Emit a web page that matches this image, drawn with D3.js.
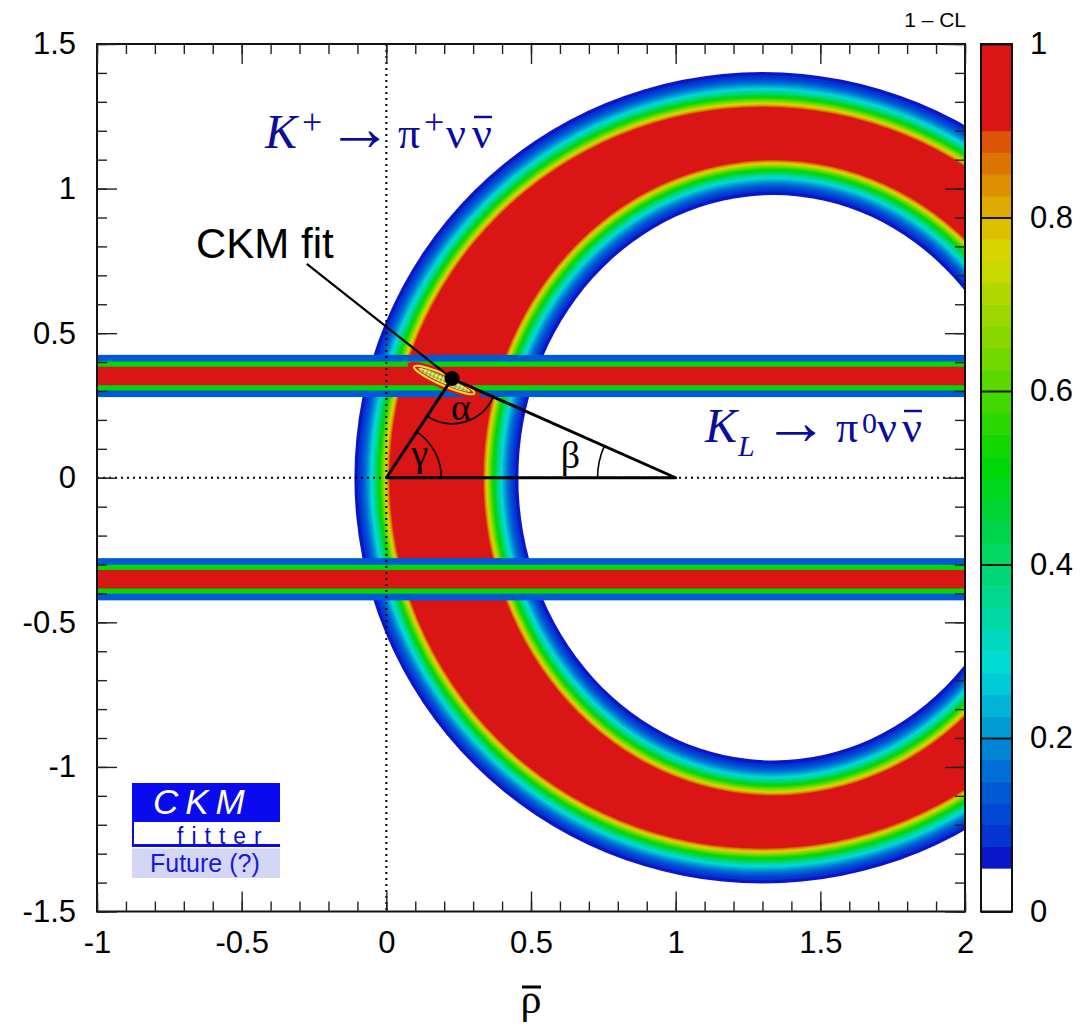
<!DOCTYPE html>
<html><head><meta charset="utf-8">
<script src="https://cdn.jsdelivr.net/npm/d3@7"></script>
<style>body{margin:0;background:#fff} svg{display:block}</style>
</head><body>
<svg id="c" width="1082" height="1027"></svg>
<script>
// ---------------- data ----------------
const xTicks = [-1, -0.5, 0, 0.5, 1, 1.5, 2];
const xTickLabels = ["-1", "-0.5", "0", "0.5", "1", "1.5", "2"];
const yTicks = [-1.5, -1, -0.5, 0, 0.5, 1, 1.5];
const yTickLabels = ["-1.5", "-1", "-0.5", "0", "0.5", "1", "1.5"];
const clTicks = [0, 0.2, 0.4, 0.6, 0.8, 1];
const clTickLabels = ["0", "0.2", "0.4", "0.6", "0.8", "1"];
// palette levels (lower bound of each colour step) and colours
const clLevels = [0.05, 0.075, 0.1, 0.125, 0.15, 0.175, 0.2, 0.225, 0.25, 0.275,
  0.3, 0.325, 0.35, 0.375, 0.4, 0.425, 0.45, 0.475, 0.5, 0.525,
  0.55, 0.575, 0.6, 0.625, 0.65, 0.675, 0.7, 0.725, 0.75, 0.775,
  0.8, 0.825, 0.85, 0.875, 0.9];
const clColors = ["#0a16c8", "#0534d0", "#0048d4", "#005ad4", "#006ed4", "#0084d4", "#009cd4", "#00b4d8", "#00cad8", "#00dcd4",
  "#00d8c0", "#00d8a8", "#00d890", "#00d878", "#00d862", "#00d44c", "#00d434", "#00d81c", "#00d808", "#12d800",
  "#2ad800", "#42d800", "#5ad800", "#72d800", "#88d800", "#9cd800", "#b0d800", "#c8d800", "#d8d400", "#dcc000",
  "#dcaa00", "#dc9000", "#dc7400", "#dc5408", "#d91515"];
// K+ -> pi+ nu nubar constraint: flat (1-CL = 1) region between two ellipses, gaussian tails
const ringOuterRed = {c: 1.30, a: 1.281, b: 1.274};
const ringInnerRed = {c: 1.338, a: 1.011, b: 1.107};
const ringSigma = 0.066;
// K_L -> pi0 nu nubar constraint: horizontal bands
const bandCenters = [0.352, -0.351];
const bandHalfWidths = [0.073, 0.050, 0.032];
const bandValues = [0.13, 0.5, 1.0];
// CKM fit
const fitPoint = [0.227, 0.343];
const fitCenter = [0.200, 0.338];
const fitOuterAxes = [0.138, 0.031];
const fitContourAxes = [0.114, 0.019];
const fitCoreAxes = [0.099, 0.012];
const triangle = [[0, 0], [1, 0], fitPoint];
const pointerStart = [-0.275, 0.74];
const arcRadius = {alpha: 0.156, gamma: 0.19, beta: 0.27};
const greekLabels = [
  {t: "α", rho: 0.258, eta: 0.245},
  {t: "γ", rho: 0.115, eta: 0.085},
  {t: "β", rho: 0.636, eta: 0.078}
];

// ---------------- setup ----------------
const svg = d3.select("#c");
const x = d3.scaleLinear().domain([-1, 2]).range([97, 965]);
const y = d3.scaleLinear().domain([-1.5, 1.5]).range([911.5, 44]);
const cl = d3.scaleLinear().domain([0, 1]).range([911.5, 44]);
const kx = x(1) - x(0), ky = y(0) - y(1);

function colorFor(v) {
  if (v < clLevels[0]) return "#ffffff";
  let c = clColors[0];
  clLevels.forEach((l, i) => { if (v >= l) c = clColors[i]; });
  return c;
}
function erfc(z) {
  const t = 1 / (1 + 0.5 * Math.abs(z));
  const r = t * Math.exp(-z * z - 1.26551223 + t * (1.00002368 + t * (0.37409196 + t * (0.09678418 +
    t * (-0.18628806 + t * (0.27886807 + t * (-1.13520398 + t * (1.48851587 + t * (-0.82215223 + t * 0.17087277)))))))));
  return z >= 0 ? r : 2 - r;
}
function dist(v, s) { // distance from the flat region where 1-CL = v
  let lo = 0, hi = 10 * s;
  for (let k = 0; k < 60; k++) {
    const m = (lo + hi) / 2;
    if (erfc(m / (s * Math.SQRT2)) > v) lo = m; else hi = m;
  }
  return (lo + hi) / 2;
}

const defs = svg.append("defs");
defs.append("clipPath").attr("id", "plotclip").append("rect")
  .attr("x", x(-1)).attr("y", y(1.5)).attr("width", x(2) - x(-1)).attr("height", y(-1.5) - y(1.5));
const pat = defs.append("pattern").attr("id", "speck").attr("width", 4).attr("height", 4)
  .attr("patternUnits", "userSpaceOnUse");
pat.append("rect").attr("width", 4).attr("height", 4).attr("fill", "#d8cc40");
pat.append("rect").attr("width", 2).attr("height", 2).attr("fill", "#58c050");
pat.append("rect").attr("x", 2).attr("y", 2).attr("width", 2).attr("height", 2).attr("fill", "#f2e68a");

const plot = svg.append("g").attr("clip-path", "url(#plotclip)");

// ---------------- ring ----------------
const ringG = plot.append("g");
function ell(c, a, b, fill) {
  ringG.append("ellipse").attr("cx", x(c)).attr("cy", y(0))
    .attr("rx", Math.max(0, a * kx)).attr("ry", Math.max(0, b * ky)).attr("fill", fill);
}
clLevels.forEach((v, i) => {
  const d = dist(v, ringSigma);
  ell(ringOuterRed.c, ringOuterRed.a + d, ringOuterRed.b + d, clColors[i]);
});
for (let i = clLevels.length - 1; i >= 0; i--) {
  const d = dist(clLevels[i], ringSigma);
  ell(ringInnerRed.c, ringInnerRed.a - d, ringInnerRed.b - d, i === 0 ? "#ffffff" : clColors[i - 1]);
}

// ---------------- bands ----------------
const bandG = plot.append("g");
bandCenters.forEach(c => {
  bandHalfWidths.forEach((hw, i) => {
    bandG.append("rect").attr("x", x(-1)).attr("width", x(2) - x(-1))
      .attr("y", y(c + hw)).attr("height", y(c - hw) - y(c + hw))
      .attr("fill", colorFor(bandValues[i]));
  });
});

// ---------------- CKM fit blob ----------------
const angDeg = Math.atan2(y(0) - y(fitPoint[1]), x(1) - x(fitPoint[0])) * 180 / Math.PI;
const blob = plot.append("g")
  .attr("transform", `translate(${x(fitCenter[0])},${y(fitCenter[1])}) rotate(${angDeg})`);
blob.append("ellipse").attr("rx", fitOuterAxes[0] * kx).attr("ry", fitOuterAxes[1] * ky).attr("fill", "#d91515");
blob.append("ellipse").attr("rx", fitContourAxes[0] * kx).attr("ry", fitContourAxes[1] * ky)
  .attr("fill", "#d91515").attr("stroke", "#f2e040").attr("stroke-width", 2.2);
blob.append("ellipse").attr("rx", fitCoreAxes[0] * kx).attr("ry", fitCoreAxes[1] * ky).attr("fill", "url(#speck)");

// ---------------- dotted axes lines ----------------
plot.append("line").attr("x1", x(0)).attr("x2", x(0)).attr("y1", y(1.5)).attr("y2", y(-1.5))
  .attr("stroke", "#000").attr("stroke-width", 2).attr("stroke-dasharray", "2,4");
plot.append("line").attr("x1", x(-1)).attr("x2", x(2)).attr("y1", y(0)).attr("y2", y(0))
  .attr("stroke", "#000").attr("stroke-width", 2).attr("stroke-dasharray", "2,4");

// ---------------- triangle, pointer, arcs ----------------
plot.append("path")
  .attr("d", d3.line().x(d => x(d[0])).y(d => y(d[1]))([...triangle, triangle[0]]))
  .attr("fill", "none").attr("stroke", "#000").attr("stroke-width", 3).attr("stroke-linejoin", "round");
plot.append("line").attr("x1", x(pointerStart[0])).attr("y1", y(pointerStart[1]))
  .attr("x2", x(fitPoint[0])).attr("y2", y(fitPoint[1])).attr("stroke", "#000").attr("stroke-width", 2.2);

function arcPath(cx, cy, r, a0, a1) {
  const p = d3.path();
  p.moveTo(cx + r * Math.cos(a0), cy + r * Math.sin(a0));
  p.arc(cx, cy, r, a0, a1, false);
  return p.toString();
}
const A = [x(fitPoint[0]), y(fitPoint[1])], O = [x(0), y(0)], B = [x(1), y(0)];
const angA0 = Math.atan2(B[1] - A[1], B[0] - A[0]);
const angA1 = Math.atan2(O[1] - A[1], O[0] - A[0]);
plot.append("path").attr("d", arcPath(A[0], A[1], arcRadius.alpha * kx, angA0, angA1))
  .attr("fill", "none").attr("stroke", "#000").attr("stroke-width", 1.6);
const angG = Math.atan2(A[1] - O[1], A[0] - O[0]);
plot.append("path").attr("d", arcPath(O[0], O[1], arcRadius.gamma * kx, angG, 0))
  .attr("fill", "none").attr("stroke", "#000").attr("stroke-width", 1.6);
let angB = Math.atan2(A[1] - B[1], A[0] - B[0]); if (angB < 0) angB += 2 * Math.PI;
plot.append("path").attr("d", arcPath(B[0], B[1], arcRadius.beta * kx, Math.PI, angB))
  .attr("fill", "none").attr("stroke", "#000").attr("stroke-width", 1.6);

plot.append("circle").attr("cx", A[0]).attr("cy", A[1]).attr("r", 7.5).attr("fill", "#000");

svg.append("g").selectAll("text").data(greekLabels).join("text")
  .attr("x", d => x(d.rho)).attr("y", d => y(d.eta))
  .attr("text-anchor", "middle").attr("dominant-baseline", "central")
  .attr("font-family", "Liberation Serif, Times New Roman, serif").attr("font-size", 38)
  .text(d => d.t);

// ---------------- labels ----------------
const SERIF = "Liberation Serif, Times New Roman, serif";
function rich(parts, color) {
  const t = svg.append("text").attr("font-family", SERIF).attr("fill", color);
  parts.forEach(p => {
    const s = t.append("tspan").text(p.t).attr("font-size", p.fs).attr("x", p.x).attr("y", p.y);
    if (p.it) s.attr("font-style", "italic");
    if (p.ff) s.attr("font-family", p.ff);
  });
  const node = t.node();
  const bb = node.getExtentOfChar(node.getNumberOfChars() - 1);
  const last = parts[parts.length - 1];
  svg.append("line").attr("x1", bb.x + 2).attr("x2", bb.x + bb.width)
    .attr("y1", last.y - 31).attr("y2", last.y - 31)
    .attr("stroke", color).attr("stroke-width", 2.5);
  return t;
}
const labColor = "#0c0c9c";
rich([
  {t: "K", fs: 48, it: true, x: 265, y: 148},
  {t: "+", fs: 36, x: 302, y: 134},
  {t: "→", fs: 66, x: 327, y: 150},
  {t: "π", fs: 44, x: 398, y: 148},
  {t: "+", fs: 36, x: 424, y: 134},
  {t: "ν", fs: 44, x: 446, y: 148},
  {t: "ν", fs: 44, x: 472, y: 148}
], labColor);
rich([
  {t: "K", fs: 48, it: true, x: 705, y: 442},
  {t: "L", fs: 30, it: true, x: 738, y: 456},
  {t: "→", fs: 66, x: 763, y: 444},
  {t: "π", fs: 44, x: 836, y: 442},
  {t: "0", fs: 30, x: 862, y: 433},
  {t: "ν", fs: 44, x: 877, y: 442},
  {t: "ν", fs: 44, x: 902, y: 442}
], labColor);

svg.append("text").attr("x", 196).attr("y", 258)
  .attr("font-family", "Liberation Sans, Arial, sans-serif").attr("font-size", 42).attr("fill", "#000")
  .text("CKM fit");

svg.append("text").attr("x", 966).attr("y", 27).attr("text-anchor", "end")
  .attr("font-family", "Liberation Sans, Arial, sans-serif").attr("font-size", 21).text("1 – CL");

// x-axis title rho-bar
svg.append("text").attr("x", x(0.5)).attr("y", 1013).attr("text-anchor", "middle")
  .attr("font-family", SERIF).attr("font-size", 42).text("ρ");
svg.append("line").attr("x1", x(0.5) - 9).attr("x2", x(0.5) + 10).attr("y1", 987).attr("y2", 987)
  .attr("stroke", "#000").attr("stroke-width", 3);

// ---------------- frame and axes ----------------
svg.append("rect").attr("x", x(-1)).attr("y", y(1.5)).attr("width", x(2) - x(-1)).attr("height", y(-1.5) - y(1.5))
  .attr("fill", "none").attr("stroke", "#111").attr("stroke-width", 2);

function styleAxis(g) {
  g.select(".domain").remove();
  g.selectAll("line").attr("stroke", "#222").attr("stroke-width", 1.4);
  g.attr("font-family", "Liberation Sans, Arial, sans-serif").attr("font-size", 31);
  g.selectAll("text").attr("fill", "#000");
}
svg.append("g").attr("transform", `translate(0,${y(-1.5)})`)
  .call(d3.axisBottom(x).tickValues(xTicks).tickFormat((d, i) => xTickLabels[i]).tickSizeInner(-20).tickSizeOuter(0).tickPadding(19))
  .call(styleAxis);
svg.append("g").attr("transform", `translate(0,${y(-1.5)})`)
  .call(d3.axisBottom(x).ticks(30).tickFormat("").tickSizeInner(-10).tickSizeOuter(0)).call(styleAxis);
svg.append("g").attr("transform", `translate(0,${y(1.5)})`)
  .call(d3.axisTop(x).tickValues(xTicks).tickFormat("").tickSizeInner(-20).tickSizeOuter(0)).call(styleAxis);
svg.append("g").attr("transform", `translate(0,${y(1.5)})`)
  .call(d3.axisTop(x).ticks(30).tickFormat("").tickSizeInner(-10).tickSizeOuter(0)).call(styleAxis);
svg.append("g").attr("transform", `translate(${x(-1)},0)`)
  .call(d3.axisLeft(y).tickValues(yTicks).tickFormat((d, i) => yTickLabels[i]).tickSizeInner(-20).tickSizeOuter(0).tickPadding(21))
  .call(styleAxis);
svg.append("g").attr("transform", `translate(${x(-1)},0)`)
  .call(d3.axisLeft(y).ticks(30).tickFormat("").tickSizeInner(-10).tickSizeOuter(0)).call(styleAxis);
svg.append("g").attr("transform", `translate(${x(2)},0)`)
  .call(d3.axisRight(y).tickValues(yTicks).tickFormat("").tickSizeInner(-20).tickSizeOuter(0)).call(styleAxis);
svg.append("g").attr("transform", `translate(${x(2)},0)`)
  .call(d3.axisRight(y).ticks(30).tickFormat("").tickSizeInner(-10).tickSizeOuter(0)).call(styleAxis);

// ---------------- colour bar ----------------
const cbX0 = 981, cbX1 = 1012;
const cb = svg.append("g");
cb.append("rect").attr("x", cbX0).attr("width", cbX1 - cbX0).attr("y", cl(clLevels[0])).attr("height", cl(0) - cl(clLevels[0])).attr("fill", "#fff");
clLevels.forEach((v, i) => {
  const top = i < clLevels.length - 1 ? clLevels[i + 1] : 1;
  cb.append("rect").attr("x", cbX0).attr("width", cbX1 - cbX0)
    .attr("y", cl(top)).attr("height", cl(v) - cl(top) + 0.5).attr("fill", clColors[i]);
});
cb.append("rect").attr("x", cbX0).attr("y", cl(1)).attr("width", cbX1 - cbX0).attr("height", cl(0) - cl(1))
  .attr("fill", "none").attr("stroke", "#111").attr("stroke-width", 2);
svg.append("g").attr("transform", `translate(${cbX1},0)`)
  .call(d3.axisRight(cl).tickValues(clTicks).tickFormat((d, i) => clTickLabels[i]).tickSizeInner(-(cbX1 - cbX0)).tickSizeOuter(0).tickPadding(18))
  .call(styleAxis)
  .call(g => g.selectAll("line").attr("stroke", "#111").attr("stroke-width", 2));

// ---------------- CKMfitter logo ----------------
const logo = svg.append("g");
logo.append("rect").attr("x", 132).attr("y", 783).attr("width", 148).attr("height", 39).attr("fill", "#0a0af0");
logo.append("text").attr("x", 153).attr("y", 814).attr("fill", "#fff").attr("font-style", "italic")
  .attr("font-family", "Liberation Sans, Arial, sans-serif").attr("font-size", 35).attr("letter-spacing", 7).text("CKM");
logo.append("line").attr("x1", 133).attr("x2", 133).attr("y1", 821).attr("y2", 847).attr("stroke", "#0a0af0").attr("stroke-width", 2);
logo.append("line").attr("x1", 132).attr("x2", 280).attr("y1", 845.5).attr("y2", 845.5).attr("stroke", "#0a0af0").attr("stroke-width", 3);
logo.append("text").attr("x", 177).attr("y", 844).attr("fill", "#0a0ad0")
  .attr("font-family", "Liberation Sans, Arial, sans-serif").attr("font-size", 23).attr("letter-spacing", 8).text("fitter");
logo.append("rect").attr("x", 132).attr("y", 848.5).attr("width", 148).attr("height", 29.5).attr("fill", "#d4d6f6");
logo.append("text").attr("x", 150).attr("y", 872).attr("fill", "#1a1ad0")
  .attr("font-family", "Liberation Sans, Arial, sans-serif").attr("font-size", 25).text("Future (?)");
</script>
</body></html>
